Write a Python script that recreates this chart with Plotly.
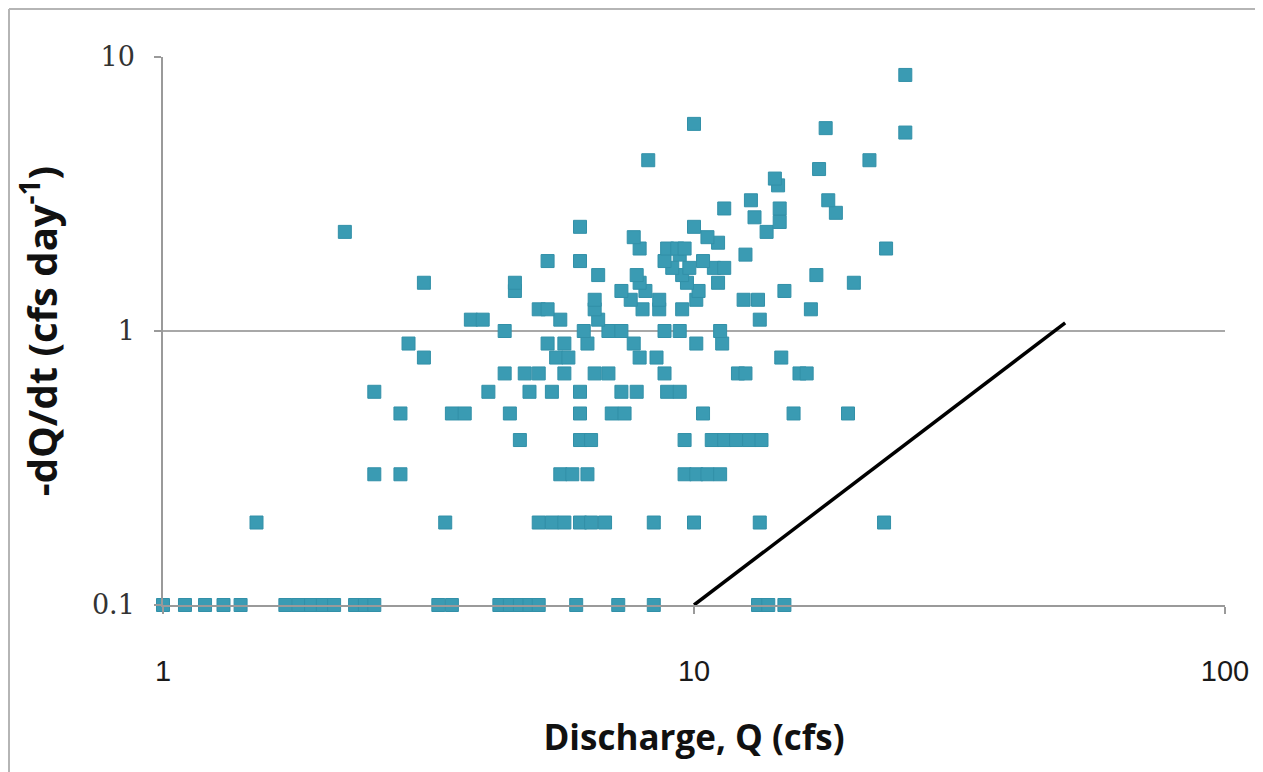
import plotly.graph_objects as go

# Recession data: discharge Q (cfs) and -dQ/dt (cfs/day)
q_01 = [1.0, 1.1, 1.2, 1.3, 1.4, 1.7, 1.8, 1.9, 2.0, 2.1, 2.3, 2.4, 2.5, 3.3, 3.5,
        4.3, 4.5, 4.7, 4.9, 5.1, 6.0, 7.2, 8.4, 13.2, 13.8, 14.8]
q_02 = [1.5, 3.4, 5.1, 5.4, 5.7, 6.1, 6.4, 6.8, 8.4, 10.0, 13.3, 22.8]
q_03 = [2.5, 2.8, 5.6, 5.9, 6.3, 9.6, 10.1, 10.6, 11.2]
q_04 = [4.7, 6.1, 6.4, 9.6, 10.8, 11.4, 12.0, 12.7, 13.4]
q_05 = [2.8, 3.5, 3.7, 4.5, 6.1, 7.0, 7.4, 10.4, 15.4, 19.5]
q_06 = [2.5, 4.1, 4.9, 5.4, 6.1, 7.3, 7.8, 8.9, 9.4]
q_07 = [4.4, 4.8, 5.1, 5.7, 6.5, 6.9, 8.8, 12.1, 12.5, 15.8, 16.3]
q_08 = [3.1, 5.5, 5.8, 7.9, 8.5, 14.6]
q_09 = [2.9, 5.3, 5.7, 6.3, 7.7, 10.1, 11.3]
q_10 = [4.4, 6.2, 6.9, 7.3, 8.8, 9.4, 11.2]
q_11 = [3.8, 4.0, 5.6, 6.6, 13.3]
q_12 = [5.1, 5.3, 6.5, 8.0, 8.6, 9.5, 16.6]
q_13 = [6.5, 7.6, 8.6, 10.1, 12.4, 13.2]
q_14 = [4.6, 7.3, 8.1, 10.2, 14.8]
q_15 = [3.1, 4.6, 7.9, 9.7, 11.1, 20.0]
q_16 = [6.6, 7.8, 9.5, 17.0]
q_17 = [9.1, 9.8, 10.9, 11.4]
q_18 = [5.3, 6.1, 8.8, 10.4]
q_19 = [9.4, 12.5]
q_20 = [7.9, 8.9, 9.3, 9.6, 23.0]
q_21 = [11.1]
q_22 = [7.7, 10.6]
q_23 = [2.2, 13.7]
q_24 = [6.1, 10.0]
q_25 = [14.5]
q_26 = [13.0]
q_27 = [18.5]
q_28 = [11.4, 14.5]
q_30 = [12.8, 17.9]
q_34 = [14.4]
q_36 = [14.2]
q_39 = [17.2]
q_42 = [8.2, 21.4]
q_53 = [25.0]
q_55 = [17.7]
q_57 = [10.0]
q_86 = [25.0]

rows = [
    (0.1, q_01), (0.2, q_02), (0.3, q_03), (0.4, q_04), (0.5, q_05),
    (0.6, q_06), (0.7, q_07), (0.8, q_08), (0.9, q_09), (1.0, q_10),
    (1.1, q_11), (1.2, q_12), (1.3, q_13), (1.4, q_14), (1.5, q_15),
    (1.6, q_16), (1.7, q_17), (1.8, q_18), (1.9, q_19), (2.0, q_20),
    (2.1, q_21), (2.2, q_22), (2.3, q_23), (2.4, q_24), (2.5, q_25),
    (2.6, q_26), (2.7, q_27), (2.8, q_28), (3.0, q_30), (3.4, q_34),
    (3.6, q_36), (3.9, q_39), (4.2, q_42), (5.3, q_53), (5.5, q_55),
    (5.7, q_57), (8.6, q_86),
]

discharge = []
rate = []
for r, qs in rows:
    for q in qs:
        discharge.append(q)
        rate.append(r)

# Reference recession line
line_q = [10.0, 50.0]
line_rate = [0.1, 1.07]

x_ticks = [1, 10, 100]
x_tick_text = ["1", "10", "100"]
y_ticks = [0.1, 1, 10]
y_tick_text = ["0.1", "1", "10"]

fig = go.Figure()
fig.add_trace(go.Scatter(
    x=discharge, y=rate, mode="markers",
    marker=dict(symbol="square", size=13, color="#3a9bb3",
                line=dict(color="#3290a8", width=1)),
    showlegend=False, cliponaxis=False,
))
fig.add_trace(go.Scatter(
    x=line_q, y=line_rate, mode="lines",
    line=dict(color="black", width=3.5),
    showlegend=False,
))

# page has an 8px body margin, so the figure starts at (8, 8)
W, H = 1255, 764
L, R, T, B = 155, 1217, 49, 597
pw, ph = R - L, B - T

fig.update_layout(
    width=W, height=H,
    margin=dict(l=L, r=W - R, t=T, b=H - B, pad=0),
    paper_bgcolor="white", plot_bgcolor="white",
    font=dict(family="Open Sans, Liberation Sans, sans-serif", color="#222"),
    xaxis=dict(
        type="log", range=[0, 2], tickvals=x_ticks, ticktext=x_tick_text,
        showgrid=False, showline=True, linecolor="#9a9a9a", linewidth=1.5,
        ticks="outside", ticklen=7, tickcolor="#9a9a9a", tickwidth=1.5,
        ticklabelstandoff=32,
        tickfont=dict(size=29, color="#1a1a1a", family="Liberation Sans, sans-serif"),
        zeroline=False,
        title=dict(text="<b>Discharge, Q (cfs)</b>", standoff=40,
                   font=dict(size=35, color="#111", family="Open Sans, sans-serif")),
    ),
    yaxis=dict(
        type="log", range=[-1, 1], tickvals=y_ticks, ticktext=y_tick_text,
        showgrid=True, gridcolor="#a8a8a8", gridwidth=1.5,
        showline=True, linecolor="#9a9a9a", linewidth=1.5,
        ticks="outside", ticklen=7, tickcolor="#9a9a9a", tickwidth=1.5,
        ticklabelstandoff=14,
        tickfont=dict(size=27, color="#333", family="DejaVu Serif, serif"),
        zeroline=False,
        title=dict(text="<b>-dQ/dt (cfs day<sup>-1</sup>)</b>", standoff=22,
                   font=dict(size=40, color="#111", family="Open Sans, sans-serif")),
    ),
)

# thin frame along the figure's left and top edges
fx0 = (1 - L) / pw
fy1 = (B - 1) / ph
fig.add_shape(type="line", xref="paper", yref="paper",
              x0=fx0, x1=fx0, y0=(B - H) / ph, y1=fy1,
              line=dict(color="#b5b5b5", width=2), layer="below")
fig.add_shape(type="line", xref="paper", yref="paper",
              x0=fx0, x1=(W - L) / pw, y0=fy1, y1=fy1,
              line=dict(color="#b5b5b5", width=2), layer="below")

fig.write_html("out.html")
